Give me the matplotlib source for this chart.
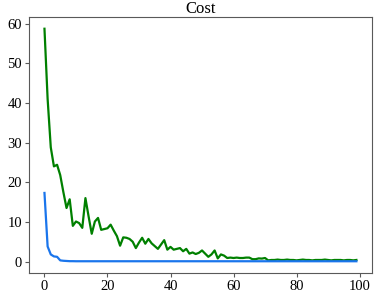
import numpy as np
import matplotlib
matplotlib.use('Agg')
import matplotlib.pyplot as plt

plt.rcParams['font.family'] = ['Liberation Serif', 'DejaVu Serif']

# cost per iteration
cost_a = [58.7, 41.0, 28.8, 24.0, 24.4, 21.8, 17.5, 13.5, 15.7, 9.0,
          10.1, 9.7, 8.5, 16.0, 11.4, 7.0, 10.1, 11.0, 8.0, 8.2,
          8.4, 9.3, 7.8, 6.4, 4.0, 6.1, 6.0, 5.7, 5.0, 3.4,
          4.8, 6.0, 4.5, 5.7, 4.6, 3.9, 3.2, 4.3, 5.4, 3.0,
          3.7, 3.0, 3.2, 3.4, 2.6, 3.2, 2.0, 2.3, 1.9, 2.2,
          2.8, 2.0, 1.2, 1.8, 2.8, 0.8, 1.8, 1.5, 0.9, 1.0,
          0.9, 1.0, 0.9, 0.9, 1.0, 1.0, 0.6, 0.6, 0.8, 0.75,
          0.9, 0.3, 0.4, 0.4, 0.5, 0.4, 0.4, 0.5, 0.4, 0.4,
          0.3, 0.4, 0.5, 0.4, 0.4, 0.3, 0.4, 0.4, 0.4, 0.5,
          0.4, 0.3, 0.4, 0.4, 0.4, 0.3, 0.4, 0.4, 0.3, 0.4]
cost_b = [17.3, 3.8, 1.8, 1.3, 1.2, 0.3, 0.2, 0.15, 0.1, 0.1] + [0.08] * 90

iters = np.arange(len(cost_a))

fig, ax = plt.subplots(figsize=(3.75, 2.95), dpi=100)
fig.subplots_adjust(left=0.077, right=0.992, bottom=0.075, top=0.942)

ax.plot(iters, cost_a, color='green', lw=1.6)
ax.plot(iters, cost_b, color='#1a75ec', lw=1.6)
ax.set_title('Cost', fontsize=12, pad=3)
ax.set_xticks([0, 20, 40, 60, 80, 100])
ax.set_yticks([0, 10, 20, 30, 40, 50, 60])
ax.tick_params(labelsize=10.5, length=3, pad=2, color='0.35')
for s in ax.spines.values():
    s.set_color('0.35')

fig.savefig('out.png', dpi=100)
